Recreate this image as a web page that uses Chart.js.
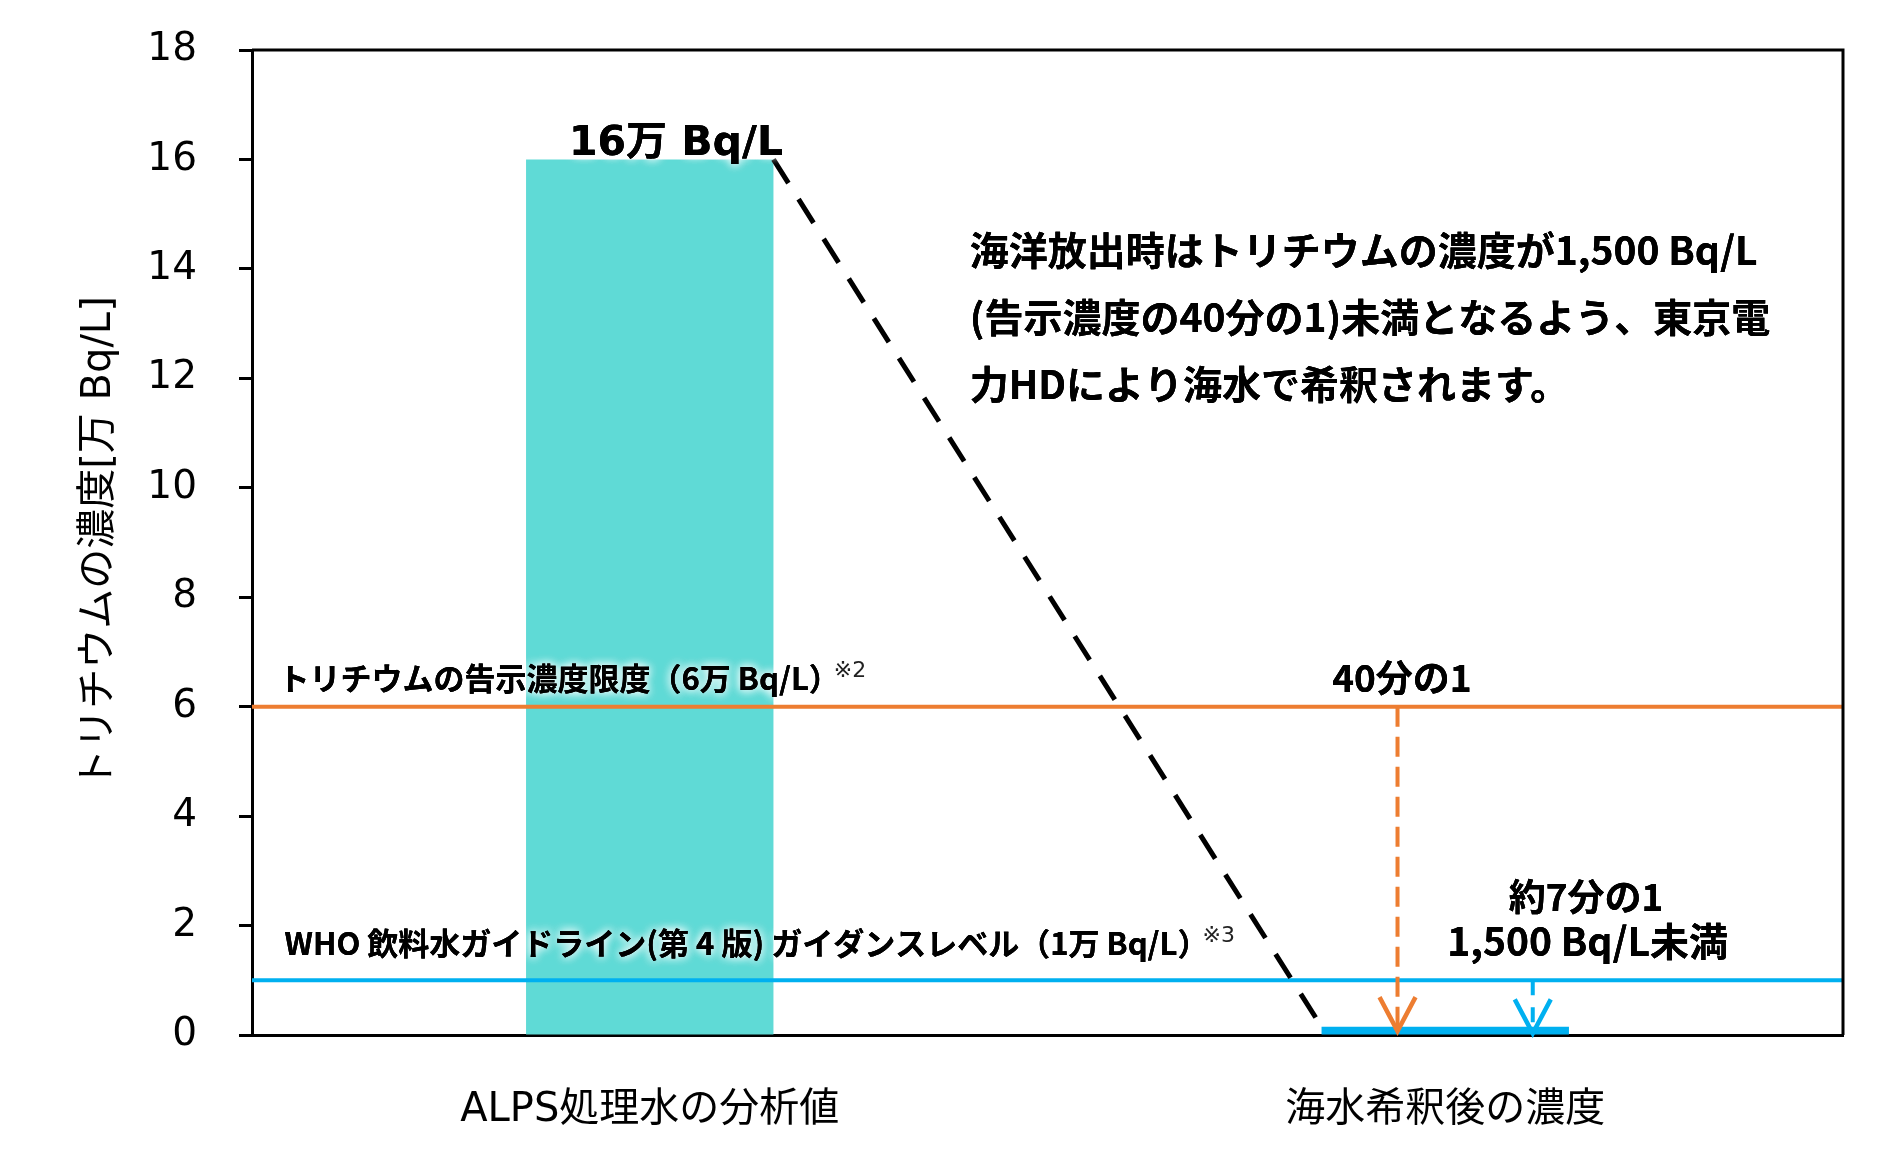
<!DOCTYPE html>
<html lang="ja">
<head>
<meta charset="utf-8">
<title>トリチウムの濃度</title>
<script src="https://cdn.jsdelivr.net/npm/chart.js@4.4.1/dist/chart.umd.min.js"></script>
<style>
  html, body { margin: 0; padding: 0; background: #fff; }
  canvas { display: block; }
</style>
</head>
<body>
<canvas id="tritiumChart" width="1894" height="1163"></canvas>
<script>
// 単位はすべて「万 Bq/L」
const categories = ['ALPS処理水の分析値', '海水希釈後の濃度'];
const concentration = [16, 0.15];
const barColors = ['#5fdad6', '#00b0f0'];
const yTicks = [0, 2, 4, 6, 8, 10, 12, 14, 16, 18];

// 告示濃度限度 / WHO ガイダンスレベル
const limitLevels = [6, 1];
const limitColors = ['#ed7d31', '#00b0f0'];
const limitLabels = ['トリチウムの告示濃度限度（6万 Bq/L）', 'WHO 飲料水ガイドライン(第 4 版) ガイダンスレベル（1万 Bq/L）'];
const limitNotes = ['※2', '※3'];

// 矢印（x は x2 軸: カテゴリ0 = 0, カテゴリ1 = 1）
const arrowX = [0.94, 1.11];
const arrowTo = [0.07, 0.03];
const arrowDash = [[20, 10], [15, 12]];
const ratioLabels = [['40分の1'], ['約7分の1', '1,500 Bq/L未満']];

const noteLines = [
  '海洋放出時はトリチウムの濃度が1,500 Bq/L',
  '(告示濃度の40分の1)未満となるよう、東京電',
  '力HDにより海水で希釈されます。'
];

const SANS = '"DejaVu Sans", "Noto Sans CJK JP", sans-serif';
const COND = '"Noto Sans CJK JP", sans-serif';
const BAR_FRAC = 0.311;

// 文字ラベルの配置（x は x2 軸、y は y 軸の値）
const texts = [
  { text: '16万 Bq/L', x: 0.033, y: 16.08, font: 'bold 41px ' + SANS, align: 'center', base: 'alphabetic' },
  { text: ratioLabels[0][0], x: 0.9455, y: 6.53, font: 'bold 37px ' + COND, align: 'center' },
  { text: ratioLabels[1][0], x: 1.177, y: 2.53, font: 'bold 37px ' + COND, align: 'center' },
  { text: ratioLabels[1][1], x: 1.179, y: 1.71, font: 'bold 39px ' + COND, align: 'center' },
  { text: limitLabels[0], x: -0.4667, y: 6.52, font: 'bold 31px ' + COND, align: 'left', note: limitNotes[0] },
  { text: limitLabels[1], x: -0.459, y: 1.67, font: 'bold 31px ' + COND, align: 'left', note: limitNotes[1] }
];
noteLines.forEach((t, i) => {
  texts.push({ text: t, x: 0.4022, y: 14.34 - i * 1.225, font: 'bold 39px ' + COND, align: 'left' });
});

const datasets = [];
// 棒
datasets.push({
  type: 'bar', xAxisID: 'x', yAxisID: 'y', order: 5,
  data: concentration,
  backgroundColor: barColors,
  grouped: false,
  barPercentage: BAR_FRAC,
  categoryPercentage: 1.0
});
// 基準線
limitLevels.forEach((v, i) => {
  datasets.push({
    type: 'line', xAxisID: 'x2', yAxisID: 'y', order: 1,
    data: [{ x: -0.5, y: v }, { x: 1.5, y: v }],
    borderColor: limitColors[i], borderWidth: 4, pointRadius: 0
  });
});
// 希釈を示す破線
datasets.push({
  type: 'line', xAxisID: 'x2', yAxisID: 'y', order: 0,
  data: [{ x: BAR_FRAC / 2, y: concentration[0] }, { x: 1 - BAR_FRAC / 2, y: concentration[1] }],
  borderColor: '#000', borderWidth: 5, borderDash: [28, 19], pointRadius: 0
});
// 矢印の軸
arrowX.forEach((ax, i) => {
  datasets.push({
    type: 'line', xAxisID: 'x2', yAxisID: 'y', order: 0,
    data: [{ x: ax, y: limitLevels[i] }, { x: ax, y: arrowTo[i] }],
    borderColor: limitColors[i], borderWidth: 4, borderDash: arrowDash[i], pointRadius: 0
  });
});

const overlay = {
  id: 'overlay',
  afterDatasetsDraw(chart) {
    const { ctx, chartArea: a } = chart;
    const xs = chart.scales.x2, ys = chart.scales.y;

    // 外枠（上・右）
    ctx.save();
    ctx.strokeStyle = '#000';
    ctx.lineWidth = 3;
    ctx.beginPath();
    ctx.moveTo(a.left, a.top);
    ctx.lineTo(a.right, a.top);
    ctx.lineTo(a.right, a.bottom);
    ctx.stroke();

    // 矢印の先端
    arrowX.forEach((ax, i) => {
      const px = xs.getPixelForValue(ax);
      const py = ys.getPixelForValue(arrowTo[i]);
      ctx.strokeStyle = limitColors[i];
      ctx.lineWidth = 4.5;
      ctx.beginPath();
      ctx.moveTo(px - 18, py - 34);
      ctx.lineTo(px, py);
      ctx.lineTo(px + 18, py - 34);
      ctx.stroke();
    });

    // 文字（白い縁取り付き）
    ctx.fillStyle = '#000';
    texts.forEach(t => {
      const px = xs.getPixelForValue(t.x);
      const py = ys.getPixelForValue(t.y);
      ctx.font = t.font;
      ctx.textAlign = t.align;
      ctx.textBaseline = t.base || 'middle';
      ctx.shadowColor = '#fff';
      ctx.shadowBlur = 10;
      ctx.fillText(t.text, px, py);
      ctx.fillText(t.text, px, py);
      ctx.shadowBlur = 0;
      ctx.fillText(t.text, px, py);
      if (t.note) {
        const w = ctx.measureText(t.text).width;
        ctx.font = '22px ' + SANS;
        ctx.textAlign = 'left';
        ctx.fillStyle = '#222';
        ctx.fillText(t.note, px + w - 6, py - 7);
        ctx.fillStyle = '#000';
      }
    });
    ctx.restore();
  }
};

new Chart(document.getElementById('tritiumChart').getContext('2d'), {
  type: 'bar',
  data: { labels: categories, datasets: datasets },
  options: {
    responsive: false,
    devicePixelRatio: 1,
    animation: false,
    events: [],
    layout: { padding: { top: 50, right: 51, bottom: 0, left: 0 } },
    plugins: { legend: { display: false }, tooltip: { enabled: false } },
    scales: {
      x: {
        type: 'category',
        position: 'bottom',
        offset: true,
        grid: { display: false },
        border: { display: true, color: '#000', width: 3 },
        ticks: { color: '#000', padding: 44, font: { family: SANS, size: 40 } },
        afterFit: s => { s.height = 128; }
      },
      x2: {
        type: 'linear',
        position: 'bottom',
        display: false,
        offset: false,
        grid: { offset: false },
        min: -0.5,
        max: 1.5
      },
      y: {
        min: 0,
        max: 18,
        afterBuildTicks: s => { s.ticks = yTicks.map(v => ({ value: v })); },
        ticks: { color: '#000', padding: 42, font: { family: SANS, size: 39 } },
        grid: { drawOnChartArea: false, drawTicks: true, tickLength: 13, tickWidth: 3, tickColor: '#000' },
        border: { color: '#000', width: 3 },
        title: {
          display: true,
          text: 'トリチウムの濃度[万 Bq/L]',
          color: '#000',
          padding: { top: 76, bottom: 0 },
          font: { family: SANS, size: 40 }
        },
        afterFit: s => {
          s.width = 252;
          s.paddingTop = 20;
          s.paddingBottom = 20;
        }
      }
    }
  },
  plugins: [overlay]
});
</script>
</body>
</html>
